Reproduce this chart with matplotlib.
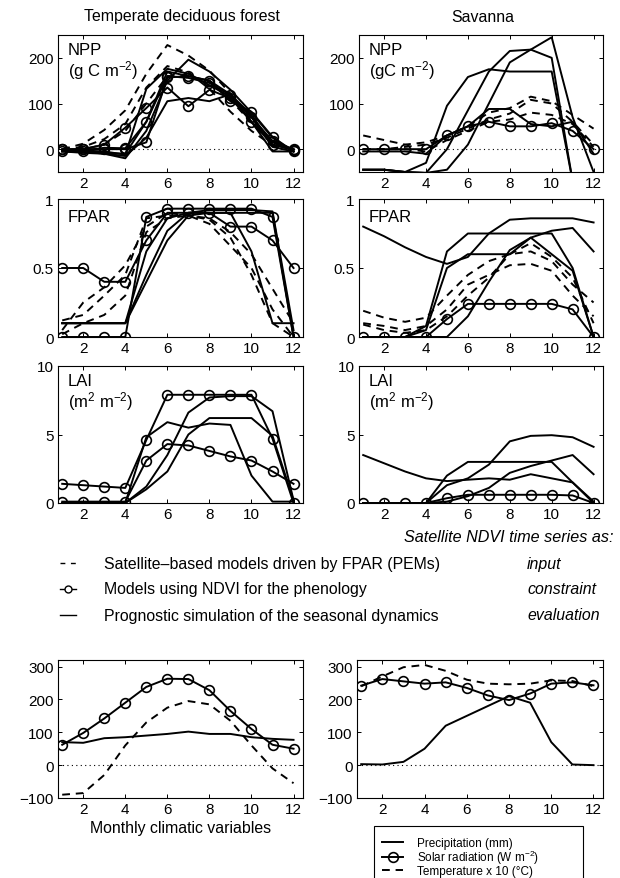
import matplotlib
matplotlib.use("Agg")
import matplotlib.pyplot as plt
from matplotlib.lines import Line2D
from matplotlib.patches import Rectangle

plt.rcParams['font.family'] = ['Liberation Sans', 'DejaVu Sans']
plt.rcParams['mathtext.default'] = 'regular'

months = list(range(1, 13))

# ---------------- Temperate deciduous forest ----------------
tdf_npp_dashed = [
    [0, 12, 42, 85, 165, 228, 205, 172, 122, 60, 15, -3],
    [0, 5, 22, 55, 135, 182, 168, 132, 82, 40, 8, 0],
    [0, 0, 10, 40, 100, 160, 160, 148, 108, 58, 12, 0],
]
tdf_npp_circle = [
    [0, 0, 10, 47, 90, 135, 94, 130, 112, 60, 10, -2],
    [0, 0, 0, 0, 15, 157, 160, 150, 105, 82, 27, -5],
    [-3, -3, 3, 2, 60, 160, 156, 145, 118, 70, 18, 0],
]
tdf_npp_solid = [
    [-5, -5, -10, -20, 40, 150, 196, 170, 130, 80, 25, -5],
    [-5, -8, -10, -15, 25, 105, 112, 105, 120, 60, -5, -5],
    [-5, -5, -8, -10, 60, 170, 160, 150, 120, 75, 10, 0],
    [-3, -3, -5, -12, 132, 176, 165, 140, 115, 70, 5, -5],
]
tdf_fpar_dashed = [
    [0.12, 0.16, 0.30, 0.45, 0.86, 0.88, 0.88, 0.85, 0.72, 0.45, 0.10, 0.00],
    [0.05, 0.25, 0.36, 0.52, 0.80, 0.90, 0.88, 0.86, 0.76, 0.60, 0.35, 0.10],
    [0.02, 0.10, 0.16, 0.30, 0.76, 0.86, 0.88, 0.82, 0.66, 0.50, 0.20, 0.00],
]
tdf_fpar_circle = [
    [0.50, 0.50, 0.40, 0.40, 0.70, 0.90, 0.90, 0.90, 0.80, 0.80, 0.70, 0.50],
    [0.00, 0.00, 0.00, 0.00, 0.87, 0.93, 0.93, 0.93, 0.93, 0.93, 0.87, 0.00],
]
tdf_fpar_solid = [
    [0.10, 0.10, 0.10, 0.10, 0.40, 0.70, 0.88, 0.90, 0.90, 0.62, 0.10, 0.10],
    [0.10, 0.10, 0.10, 0.10, 0.45, 0.77, 0.90, 0.90, 0.90, 0.90, 0.90, 0.00],
    [0.10, 0.10, 0.10, 0.10, 0.62, 0.86, 0.90, 0.92, 0.92, 0.92, 0.91, 0.05],
]
tdf_lai_circle = [
    [1.4, 1.3, 1.2, 1.1, 4.6, 7.9, 7.9, 7.9, 7.9, 7.9, 4.7, 0.0],
    [0.1, 0.1, 0.1, 0.1, 3.1, 4.3, 4.2, 3.8, 3.4, 3.1, 2.3, 1.4],
]
tdf_lai_solid = [
    [0.0, 0.0, 0.0, 0.0, 1.0, 2.3, 5.0, 6.2, 6.2, 6.2, 4.9, 0.2],
    [0.0, 0.0, 0.0, 0.0, 1.2, 3.5, 6.6, 7.7, 7.8, 7.8, 6.7, 0.2],
    [0.0, 0.0, 0.0, 0.0, 4.8, 5.9, 5.5, 5.8, 5.7, 2.0, 0.1, 0.1],
]

# ---------------- Savanna ----------------
sav_npp_dashed = [
    [30, 20, 10, 15, 30, 50, 80, 90, 115, 105, 75, 45],
    [0, 0, 5, 10, 25, 45, 65, 78, 108, 100, 60, 10],
    [0, 0, 0, -5, 20, 40, 60, 65, 80, 75, 55, 5],
]
sav_npp_circle = [
    [0, 0, 0, 0, 30, 50, 60, 50, 50, 57, 40, 0],
]
sav_npp_solid = [
    [-45, -45, -50, -30, 95, 158, 175, 170, 170, 170, -70, -70],
    [-45, -45, -50, -52, 0, 85, 170, 215, 218, 200, -70, -70],
    [-45, -45, -50, -52, -45, 10, 100, 190, 218, 245, 70, -50],
    [-5, -5, -5, -10, 30, 50, 88, 88, 55, 50, 60, -10],
]
sav_fpar_dashed = [
    [0.19, 0.14, 0.11, 0.14, 0.30, 0.45, 0.55, 0.60, 0.62, 0.55, 0.38, 0.25],
    [0.10, 0.08, 0.05, 0.08, 0.20, 0.38, 0.45, 0.52, 0.53, 0.48, 0.30, 0.15],
    [0.09, 0.05, 0.03, 0.05, 0.15, 0.30, 0.43, 0.60, 0.68, 0.58, 0.43, 0.10],
]
sav_fpar_circle = [
    [0.00, 0.00, 0.00, 0.00, 0.13, 0.24, 0.24, 0.24, 0.24, 0.24, 0.20, 0.00],
]
sav_fpar_solid = [
    [0.80, 0.73, 0.65, 0.58, 0.53, 0.58, 0.75, 0.85, 0.86, 0.86, 0.86, 0.83],
    [0.00, 0.00, 0.00, 0.08, 0.62, 0.75, 0.75, 0.75, 0.75, 0.75, 0.50, 0.00],
    [0.00, 0.00, 0.00, 0.05, 0.50, 0.60, 0.60, 0.60, 0.72, 0.77, 0.79, 0.62],
    [0.00, 0.00, 0.00, 0.00, 0.00, 0.15, 0.40, 0.63, 0.72, 0.60, 0.48, 0.00],
]
sav_lai_circle = [
    [0.0, 0.0, 0.0, 0.0, 0.35, 0.6, 0.6, 0.6, 0.6, 0.6, 0.55, 0.0],
]
sav_lai_solid = [
    [3.5, 2.9, 2.3, 1.8, 1.6, 1.7, 1.8, 1.7, 2.1, 1.8, 1.5, 0.1],
    [0.0, 0.0, 0.0, 0.0, 2.0, 3.0, 3.0, 3.0, 3.0, 3.0, 1.5, 0.0],
    [0.0, 0.0, 0.0, 0.0, 1.3, 1.8, 2.8, 4.5, 4.9, 4.95, 4.8, 4.1],
    [0.0, 0.0, 0.0, 0.0, 0.1, 0.5, 1.1, 2.2, 2.7, 3.1, 3.5, 2.1],
]

# ---------------- Climate ----------------
tdf_precip = [70, 68, 82, 85, 90, 95, 102, 95, 95, 85, 80, 77]
tdf_solar = [62, 98, 142, 190, 238, 263, 262, 228, 165, 110, 62, 50]
tdf_temp = [-90, -85, -30, 60, 130, 175, 195, 185, 135, 60, -10, -55]
sav_precip = [3, 2, 10, 50, 120, 150, 180, 210, 190, 70, 2, 0]
sav_solar = [242, 262, 255, 248, 252, 235, 212, 198, 218, 248, 252, 243]
sav_temp = [240, 270, 298, 305, 287, 260, 248, 246, 248, 258, 256, 240]

W, H = 620, 879
fig = plt.figure(figsize=(W / 100, H / 100), dpi=100)


def add_ax(x0, y0, x1, y1):
    return fig.add_axes([x0 / W, 1 - y1 / H, (x1 - x0) / W, (y1 - y0) / H])


LW = 1.4
FS = 11


def style(ax, ylim, yticks, yticklabels):
    ax.set_xlim(0.8, 12.45)
    ax.set_ylim(*ylim)
    ax.set_xticks([2, 4, 6, 8, 10, 12])
    ax.set_yticks(yticks)
    ax.set_yticklabels(yticklabels)
    ax.tick_params(direction='in', top=True, right=True, labelsize=FS,
                   length=3, width=0.7, pad=3)
    for s in ax.spines.values():
        s.set_linewidth(0.8)


def draw(ax, dashed, circle, solid):
    for s in solid:
        ax.plot(months, s, '-', color='black', lw=LW)
    for d in dashed:
        ax.plot(months, d, '--', color='black', lw=LW, dashes=(4, 3))
    for c in circle:
        ax.plot(months, c, '-', color='black', lw=LW, marker='o', ms=7,
                mfc='none', mec='black', mew=1.2)


rows = [(36, 173), (200, 338), (367, 504)]
cols = [(58, 303), (359, 603)]

# NPP
ax = add_ax(cols[0][0], rows[0][0], cols[0][1], rows[0][1])
ax.axhline(0, color='black', ls=(0, (1, 3)), lw=0.8)
draw(ax, tdf_npp_dashed, tdf_npp_circle, tdf_npp_solid)
style(ax, (-50, 250), [0, 100, 200], ['0', '100', '200'])
ax.text(0.04, 0.95, 'NPP\n(g C m$^{-2}$)', transform=ax.transAxes, va='top',
        ha='left', fontsize=12, linespacing=1.1)

ax = add_ax(cols[1][0], rows[0][0], cols[1][1], rows[0][1])
ax.axhline(0, color='black', ls=(0, (1, 3)), lw=0.8)
draw(ax, sav_npp_dashed, sav_npp_circle, sav_npp_solid)
style(ax, (-50, 250), [0, 100, 200], ['0', '100', '200'])
ax.text(0.04, 0.95, 'NPP\n(gC m$^{-2}$)', transform=ax.transAxes, va='top',
        ha='left', fontsize=12, linespacing=1.1)

# FPAR
ax = add_ax(cols[0][0], rows[1][0], cols[0][1], rows[1][1])
draw(ax, tdf_fpar_dashed, tdf_fpar_circle, tdf_fpar_solid)
style(ax, (0, 1), [0, 0.5, 1], ['0', '0.5', '1'])
ax.text(0.04, 0.93, 'FPAR', transform=ax.transAxes, va='top', ha='left',
        fontsize=12)

ax = add_ax(cols[1][0], rows[1][0], cols[1][1], rows[1][1])
draw(ax, sav_fpar_dashed, sav_fpar_circle, sav_fpar_solid)
style(ax, (0, 1), [0, 0.5, 1], ['0', '0.5', '1'])
ax.text(0.04, 0.93, 'FPAR', transform=ax.transAxes, va='top', ha='left',
        fontsize=12)

# LAI
ax = add_ax(cols[0][0], rows[2][0], cols[0][1], rows[2][1])
draw(ax, [], tdf_lai_circle, tdf_lai_solid)
style(ax, (0, 10), [0, 5, 10], ['0', '5', '10'])
ax.text(0.04, 0.95, 'LAI\n(m$^{2}$ m$^{-2}$)', transform=ax.transAxes,
        va='top', ha='left', fontsize=12, linespacing=1.1)

ax = add_ax(cols[1][0], rows[2][0], cols[1][1], rows[2][1])
draw(ax, [], sav_lai_circle, sav_lai_solid)
style(ax, (0, 10), [0, 5, 10], ['0', '5', '10'])
ax.text(0.04, 0.95, 'LAI\n(m$^{2}$ m$^{-2}$)', transform=ax.transAxes,
        va='top', ha='left', fontsize=12, linespacing=1.1)

# Titles
fig.text(182 / W, 1 - 17 / H, 'Temperate deciduous forest', ha='center',
         va='center', fontsize=11.4)
fig.text(483 / W, 1 - 18 / H, 'Savanna', ha='center', va='center',
         fontsize=11.4)

# Middle legend
fig.text(614 / W, 1 - 537 / H, 'Satellite NDVI time series as:', ha='right',
         va='center', fontsize=11.6, style='italic')
leg_rows = [
    (564, 'dashed', 'Satellite\u2013based models driven by FPAR (PEMs)', 'input'),
    (590, 'circle', 'Models using NDVI for the phenology', 'constraint'),
    (616, 'solid', 'Prognostic simulation of the seasonal dynamics', 'evaluation'),
]
X0, X1 = 60, 76
for y, kind, txt, role in leg_rows:
    yf = 1 - y / H
    if kind == 'dashed':
        fig.add_artist(Line2D([X0 / W, X1 / W], [yf, yf], color='black', lw=1.0,
                              ls=(0, (3.5, 4)), transform=fig.transFigure))
    elif kind == 'circle':
        fig.add_artist(Line2D([X0 / W, X1 / W], [yf, yf], color='black', lw=1.0,
                              transform=fig.transFigure))
        fig.add_artist(Line2D([(X0 + X1) / 2 / W], [yf], color='black',
                              marker='o', ms=5, mfc='white', mew=1.0,
                              transform=fig.transFigure))
    else:
        fig.add_artist(Line2D([X0 / W, X1 / W], [yf, yf], color='black', lw=1.0,
                              transform=fig.transFigure))
    fig.text(104 / W, yf, txt, ha='left', va='center', fontsize=11.4)
    fig.text(527 / W, yf, role, ha='left', va='center', fontsize=11.4,
             style='italic')

# Climate
ax = add_ax(58, 661, 303, 799)
ax.axhline(0, color='black', ls=(0, (1, 3)), lw=0.8)
ax.plot(months, tdf_precip, '-', color='black', lw=LW)
ax.plot(months, tdf_temp, '--', color='black', lw=LW, dashes=(4, 3))
ax.plot(months, tdf_solar, '-', color='black', lw=LW, marker='o', ms=7,
        mfc='none', mec='black', mew=1.2)
style(ax, (-100, 320), [-100, 0, 100, 200, 300],
      ['\u2212100', '0', '100', '200', '300'])
ax.set_xlabel('Monthly climatic variables', fontsize=11.4, labelpad=3)

ax = add_ax(357, 661, 603, 799)
ax.axhline(0, color='black', ls=(0, (1, 3)), lw=0.8)
h1, = ax.plot(months, sav_precip, '-', color='black', lw=LW)
h3, = ax.plot(months, sav_temp, '--', color='black', lw=LW, dashes=(4, 3))
h2, = ax.plot(months, sav_solar, '-', color='black', lw=LW, marker='o', ms=7,
              mfc='none', mec='black', mew=1.2)
style(ax, (-100, 320), [-100, 0, 100, 200, 300],
      ['\u2212100', '0', '100', '200', '300'])

fig.add_artist(Rectangle((374 / W, -0.01), (583 - 374) / W, 1 - 827 / H + 0.01,
                         fill=False, edgecolor='black', lw=0.8,
                         transform=fig.transFigure))
leg = fig.legend([h1, h2, h3],
                 ['Precipitation (mm)', 'Solar radiation (W m$^{-2}$)',
                  'Temperature x 10 (\u00b0C)'],
                 loc='upper left', bbox_to_anchor=(376 / W, 1 - 832 / H),
                 frameon=False, fontsize=8.5, labelspacing=-0.1,
                 handlelength=1.8, handletextpad=1.2, borderpad=0.0)

fig.savefig('out.png', dpi=100)
